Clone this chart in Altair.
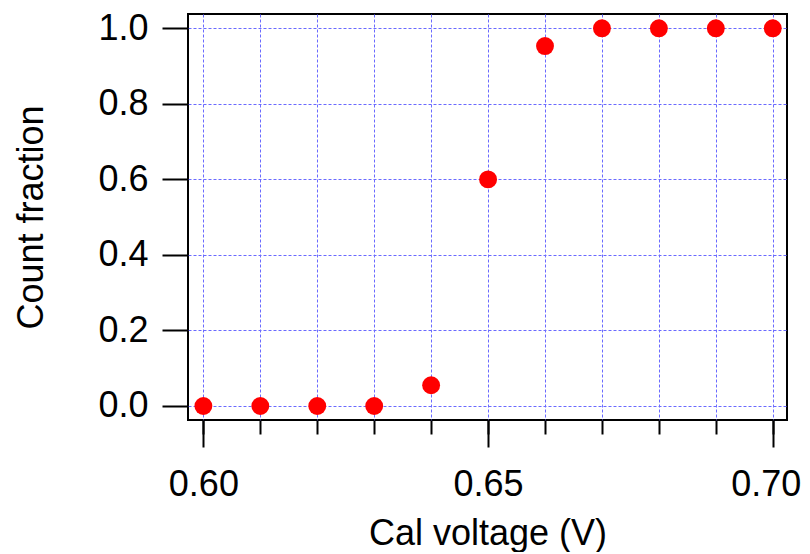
import altair as alt
import pandas as pd

voltage = [0.60, 0.61, 0.62, 0.63, 0.64, 0.65, 0.66, 0.67, 0.68, 0.69, 0.70]
fraction = [0.0, 0.0, 0.0, 0.0, 0.055, 0.6, 0.953, 1.0, 1.0, 1.0, 1.0]

x_major = [0.60, 0.65, 0.70]
x_minor = [0.60, 0.61, 0.62, 0.63, 0.64, 0.65, 0.66, 0.67, 0.68, 0.69, 0.70]
y_ticks = [0.0, 0.2, 0.4, 0.6, 0.8, 1.0]

df = pd.DataFrame({"v": voltage, "f": fraction})

FONT = "Liberation Sans"
GRID = "#6a6aff"

x_scale = alt.Scale(domain=[0.5973, 0.7025], nice=False, zero=False)
y_scale = alt.Scale(domain=[-0.0371, 1.0379], nice=False, zero=False)

y_enc = alt.Y(
    "f:Q",
    scale=y_scale,
    axis=alt.Axis(
        values=y_ticks,
        format=".1f",
        title="Count fraction",
        grid=True,
        gridColor=GRID,
        gridDash=[3, 2],
        gridWidth=1,
        domain=False,
        ticks=True,
        tickSize=26,
        tickWidth=2,
        tickColor="black",
        labelFont=FONT,
        labelFontSize=36,
        labelColor="black",
        labelPadding=14,
        titleFont=FONT,
        titleFontSize=36,
        titleFontWeight="normal",
        titleColor="black",
        titleAngle=270,
        titleBaseline="alphabetic",
        titleAlign="center",
        titleX=-146,
        titleY=203,
    ),
)

points = alt.Chart(df).mark_circle(color="#ff0000", opacity=1, size=320).encode(
    x=alt.X(
        "v:Q",
        scale=x_scale,
        axis=alt.Axis(
            orient="bottom",
            values=x_major,
            format=".2f",
            title="Cal voltage (V)",
            grid=False,
            domain=False,
            tickSize=27,
            tickWidth=2,
            tickColor="black",
            labelFont=FONT,
            labelFontSize=36,
            labelColor="black",
            labelBaseline="alphabetic",
            labelPadding=48,
            labelOffset={"condition": {"test": "datum.value > 0.69", "value": -7}, "value": 0},
            titleFont=FONT,
            titleFontSize=36,
            titleFontWeight="normal",
            titleColor="black",
            titleBaseline="alphabetic",
            titleY=124,
        ),
    ),
    y=y_enc,
)

minor = alt.Chart(df).mark_circle(opacity=0, size=10).encode(
    x=alt.X(
        "v:Q",
        scale=x_scale,
        axis=alt.Axis(
            orient="bottom",
            values=x_minor,
            title=None,
            labels=False,
            domain=False,
            grid=True,
            gridColor=GRID,
            gridDash=[3, 2],
            gridWidth=1,
            tickSize=14,
            tickWidth=2,
            tickColor="black",
        ),
    ),
    y=y_enc,
)

chart = (
    alt.layer(minor, points)
    .resolve_axis(x="independent")
    .resolve_scale(x="shared")
    .properties(
        width=599,
        height=406,
        autosize=alt.AutoSizeParams(type="none"),
        padding={"left": 180, "top": 6, "right": 15, "bottom": 132},
    )
    .configure_view(stroke="black", strokeWidth=2)
)

chart.save("out.html", embed_options={"renderer": "svg", "actions": False})
